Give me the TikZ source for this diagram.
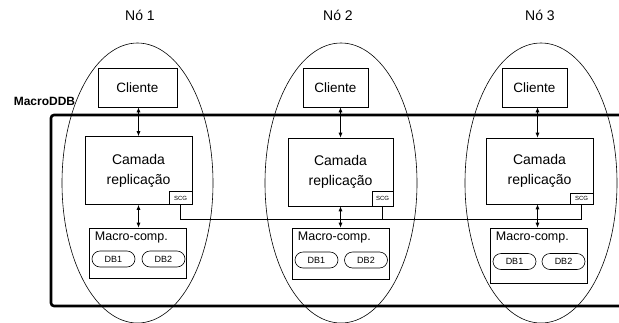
\documentclass[tikz,border=0pt]{standalone}
\usepackage{fontspec}
\setmainfont{Liberation Sans}
\usetikzlibrary{arrows.meta,shapes.geometric,calc}
\begin{document}
\begin{tikzpicture}[x=1pt,y=-1pt,
  box/.style={draw,line width=0.6pt,inner sep=0pt,fill=white},
  cli/.style={box,minimum height=39pt,font=\fontsize{13.5}{15}\selectfont},
  cam/.style={box,minimum width=107pt,minimum height=68pt,align=center,font=\fontsize{14}{20}\selectfont},
  scg/.style={box,minimum width=23pt,minimum height=13pt,font=\fontsize{6}{7}\selectfont,anchor=south east},
  mac/.style={box,minimum width=97pt},
  db/.style={draw,line width=0.6pt,rounded corners=8pt,minimum width=43pt,minimum height=16pt,inner sep=0pt,font=\fontsize{9}{10}\selectfont},
  mtxt/.style={anchor=west,inner sep=0pt,font=\fontsize{12.5}{14}\selectfont},
  lbl/.style={font=\fontsize{14}{16}\selectfont},
  ell/.style={draw,line width=0.6pt,ellipse,inner sep=0pt},
  link/.style={line width=0.6pt},
  arr/.style={line width=0.7pt,{Latex[length=5pt,width=4pt]}-{Latex[length=5pt,width=4pt]}}
]
\useasboundingbox (0,0) rectangle (619,322);
% big MacroDDB frame
\draw[line width=2.6pt,rounded corners=3pt] (660,115) -- (51,115) -- (51,306) -- (660,306);
\node[font=\bfseries\fontsize{12}{14}\selectfont] (mddb) at (44.5,101.5) {MacroDDB};

% labels
\node[lbl] (n1) at (140,15) {Nó 1};
\node[lbl] (n2) at (338,15) {Nó 2};
\node[lbl] (n3) at (540,15) {Nó 3};

% ellipses
\node[ell,minimum width=151pt,minimum height=280pt] (e1) at (137.5,183) {};
\node[ell,minimum width=152pt,minimum height=280pt] (e2) at (341,183) {};
\node[ell,minimum width=152pt,minimum height=280pt] (e3) at (541,183) {};

% node 1
\node[cli,minimum width=79pt] (cli1) at (137.5,87.5) {Cliente};
\node[cam] (cam1) at (138.5,170.5) {Camada\\replicação};
\node[scg] (scg1) at (cam1.south east) {SCG};
\node[mac,minimum height=50pt] (mac1) at (137.5,253) {};
\node[mtxt] (mt1) at ([xshift=6pt,yshift=-10pt]mac1.north west) {Macro-comp.};
\node[db] (db11) at (113.5,259) {DB1};
\node[db] (db12) at (163.5,259) {DB2};

% node 2
\node[cli,minimum width=65pt] (cli2) at (335.5,87.5) {Cliente};
\node[cam,minimum width=105pt] (cam2) at (340.5,172) {Camada\\replicação};
\node[scg,minimum width=21pt,minimum height=15pt] (scg2) at (cam2.south east) {SCG};
\node[mac,minimum height=51pt] (mac2) at (340.5,253.5) {};
\node[mtxt] (mt2) at ([xshift=6pt,yshift=-10pt]mac2.north west) {Macro-comp.};
\node[db] (db21) at (316.5,260) {DB1};
\node[db] (db22) at (366,260) {DB2};

% node 3
\node[cli,minimum width=65pt] (cli3) at (534.5,87.5) {Cliente};
\node[cam,minimum height=66pt] (cam3) at (539.5,171) {Camada\\replicação};
\node[scg,minimum height=11pt] (scg3) at (cam3.south east) {SCG};
\node[mac,minimum height=55pt] (mac3) at (538.5,255.5) {};
\node[mtxt] (mt3) at ([xshift=6pt,yshift=-10pt]mac3.north west) {Macro-comp.};
\node[db] (db31) at (514.5,261.5) {DB1};
\node[db] (db32) at (563.5,261.5) {DB2};

% arrows
\draw[arr] (cli1.south -| cam1.north) -- (cam1.north);
\draw[arr] (cam1.south) -- (cam1.south |- mac1.north);
\draw[arr] (cli2.south -| cam2.north) -- (cam2.north);
\draw[arr] (cam2.south) -- (cam2.south |- mac2.north);
\draw[arr] ([xshift=-2pt]cli3.south -| cam3.north) -- ([xshift=-2pt]cam3.north);
\draw[arr] ([xshift=-2pt]cam3.south) -- ([xshift=-2pt]cam3.south |- mac3.north);

% SCG links
\draw[link] (scg1.south) -- ++(0,14) -| (scg3.south);
\draw[link] (scg2.south) -- (scg2.south |- 0,219);
\end{tikzpicture}
\end{document}
